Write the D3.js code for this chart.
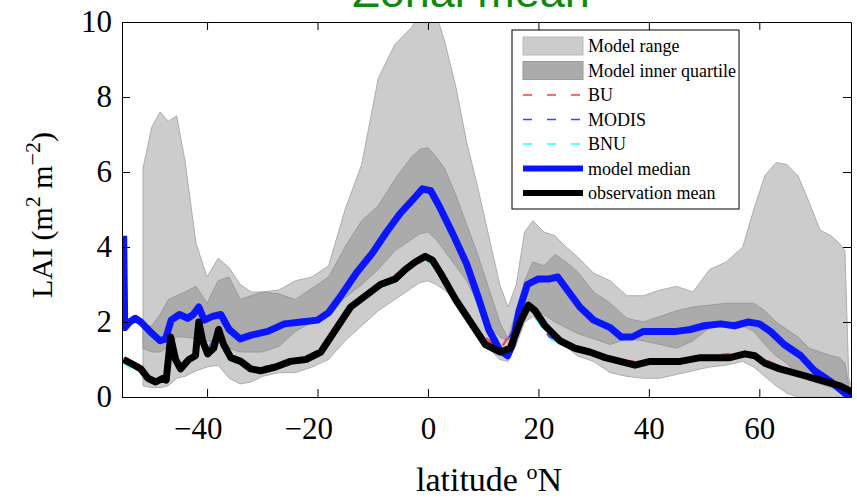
<!DOCTYPE html>
<html>
<head>
<meta charset="utf-8">
<script src="https://cdn.jsdelivr.net/npm/d3@7"></script>
<style>
  body { margin: 0; background: #fff; }
  svg { display: block; }
  .tick text { font-family: "Liberation Serif", "Times New Roman", serif; font-size: 31px; fill: #000; }
  .tick line { stroke: #000; }
  .domain { stroke: #000; }
  .leg { font-family: "Liberation Serif", "Times New Roman", serif; font-size: 18px; }
</style>
</head>
<body>
<script>
// band latitudes (shared by model range / inner quartile edges)
var bandLat = [-51.6, -50, -48.5, -47, -45.5, -44, -42, -40, -38, -36, -34, -32, -30, -27, -24, -21, -18, -15, -12, -9, -6, -3, -1.5, 0, 1.5, 3, 5, 7, 9, 11, 13, 14.5, 16, 17.5, 19, 21, 23, 25, 27, 30, 33, 36, 39, 42, 45, 48, 51, 54, 57, 59, 61, 63, 65, 67, 69, 71, 73, 74.5, 75.5, 76.2, 77];
var rangeHigh = [6.1, 7.2, 7.6, 7.35, 7.5, 6.3, 4.1, 3.2, 3.7, 3.45, 3.0, 2.8, 2.8, 2.85, 3.1, 3.2, 3.5, 5.0, 6.2, 8.5, 9.4, 9.85, 10.2, 9.9, 10.2, 9.5, 8.3, 6.8, 5.6, 4.3, 3.0, 2.4, 3.0, 4.4, 4.7, 4.4, 4.3, 4.0, 3.75, 3.3, 3.1, 2.7, 2.7, 2.85, 2.95, 2.8, 3.4, 3.6, 4.0, 5.0, 5.9, 6.25, 6.2, 5.9, 5.2, 4.45, 4.3, 4.1, 3.9, 0.5, 0.1];
var rangeLow = [0.3, 0.25, 0.25, 0.3, 0.5, 0.55, 0.7, 0.8, 0.85, 0.5, 0.35, 0.4, 0.55, 0.65, 0.65, 0.8, 1.0, 1.5, 1.9, 2.3, 2.6, 2.9, 3.05, 3.1, 3.0, 2.85, 2.6, 2.1, 1.7, 1.3, 1.0, 0.95, 1.4, 2.0, 2.15, 1.85, 1.65, 1.35, 1.1, 0.95, 0.65, 0.55, 0.5, 0.5, 0.6, 0.7, 0.8, 0.85, 0.95, 0.8, 0.55, 0.3, 0.1, 0.0, 0.0, 0.0, 0.0, 0.0, 0.0, 0.0, 0.0];
var iqrHigh = [1.9, 1.9, 2.2, 2.6, 2.7, 2.8, 2.95, 2.5, 3.1, 3.2, 2.6, 2.7, 2.8, 2.75, 2.6, 2.9, 3.2, 4.0, 4.7, 5.1, 5.8, 6.4, 6.6, 6.65, 6.4, 6.1, 5.4, 4.6, 3.8, 2.9, 2.0, 1.55, 2.3, 3.1, 3.6, 3.5, 3.8, 3.6, 3.35, 2.8, 2.5, 2.1, 2.0, 2.15, 2.3, 2.4, 2.45, 2.5, 2.5, 2.5, 2.3, 2.0, 1.8, 1.6, 1.3, 1.2, 1.1, 1.05, 0.9, 0.3, 0.1];
var iqrLow = [1.3, 1.2, 1.2, 1.35, 1.6, 1.6, 1.55, 1.5, 1.45, 1.3, 1.2, 1.2, 1.2, 1.35, 1.75, 2.0, 2.3, 2.65, 3.0, 3.4, 3.9, 4.2, 4.35, 4.4, 4.2, 3.9, 3.5, 3.1, 2.5, 1.9, 1.6, 1.5, 2.0, 2.5, 2.4, 2.2, 2.0, 1.85, 1.7, 1.55, 1.4, 1.55, 1.5, 1.4, 1.3, 1.5, 1.85, 1.9, 1.9, 1.75, 1.4, 1.1, 0.9, 0.6, 0.45, 0.35, 0.25, 0.2, 0.15, 0.1, 0.05];

// model median
var medLat = [-55.1, -54.9, -54, -53, -52, -51, -50, -48.5, -47.5, -46.5, -45, -43.5, -42.5, -41.5, -40.5, -39, -37.5, -36, -34, -32, -29, -26, -23, -20, -18, -16, -13, -10, -7.5, -5, -2.5, -1, 0.5, 2, 4.5, 7, 9, 11, 13, 14.4, 15.3, 16.5, 18, 20, 22, 23.5, 25, 27.5, 30, 33, 35, 37, 39, 42, 45, 47.5, 50, 53, 55.5, 58, 60, 62, 64.5, 67.5, 70, 73, 75.5, 77];
var medVal = [4.3, 1.85, 2.0, 2.1, 2.0, 1.85, 1.7, 1.5, 1.55, 2.05, 2.2, 2.1, 2.2, 2.4, 2.05, 2.15, 2.2, 1.8, 1.55, 1.65, 1.75, 1.95, 2.0, 2.05, 2.25, 2.65, 3.3, 3.85, 4.4, 4.9, 5.3, 5.55, 5.5, 5.1, 4.35, 3.55, 2.7, 1.8, 1.25, 1.1, 1.4, 2.3, 3.0, 3.15, 3.15, 3.2, 2.9, 2.4, 2.05, 1.85, 1.6, 1.6, 1.75, 1.75, 1.75, 1.8, 1.9, 1.95, 1.9, 2.0, 1.95, 1.75, 1.4, 1.1, 0.7, 0.4, 0.1, 0.0];

// observation mean
var obsLat = [-55.1, -53.8, -52, -50.7, -49.3, -48, -47.4, -46.6, -45.7, -44.8, -43.3, -42.1, -41.5, -40.8, -39.9, -38.8, -37.9, -37, -35.7, -33.9, -32.1, -30.3, -27.6, -24.9, -22.1, -19.4, -16.7, -14, -11.3, -8.6, -5.9, -4.1, -2.3, -0.5, 0.8, 2.3, 5, 7.7, 10.4, 13.1, 14.9, 16.7, 18.2, 19.4, 21.2, 23.9, 26.6, 29.3, 32.1, 34.8, 37.5, 40.2, 42.9, 45.7, 49.3, 52, 54.7, 57.4, 59.2, 61, 63.7, 67.4, 71, 74.6, 77];
var obsVal = [1.0, 0.9, 0.75, 0.5, 0.4, 0.5, 0.45, 1.6, 1.0, 0.75, 1.0, 1.1, 2.0, 1.5, 1.15, 1.3, 1.8, 1.4, 1.05, 0.95, 0.75, 0.7, 0.8, 0.95, 1.0, 1.2, 1.8, 2.4, 2.7, 3.0, 3.15, 3.4, 3.6, 3.75, 3.65, 3.3, 2.6, 2.0, 1.4, 1.2, 1.3, 2.0, 2.45, 2.3, 1.9, 1.5, 1.3, 1.2, 1.05, 0.95, 0.85, 0.95, 0.95, 0.95, 1.05, 1.05, 1.05, 1.15, 1.1, 0.9, 0.75, 0.6, 0.45, 0.3, 0.12];

// individual observation products (only fringe visible under black line)
var prodLat = [-55.1, -50, -47, -46.6, -45, -42, -41.5, -40, -38, -36, -32, -26, -20, -14, -8, -4, -0.5, 3, 8, 13, 16.5, 18.2, 22, 28, 35, 42, 50, 57, 60, 65, 70, 74, 77];
var buVal = [1.05, 0.5, 0.5, 1.65, 0.8, 1.15, 2.05, 1.2, 1.85, 1.05, 0.75, 0.9, 1.1, 2.45, 3.05, 3.45, 3.85, 3.15, 1.9, 1.25, 2.05, 2.5, 1.65, 1.25, 0.95, 0.97, 1.07, 1.2, 1.07, 0.72, 0.52, 0.37, 0.17];
var modisVal = [1.0, 0.48, 0.47, 1.6, 0.78, 1.1, 2.0, 1.18, 1.8, 1.02, 0.74, 0.88, 1.08, 2.4, 3.0, 3.4, 3.75, 3.1, 1.88, 1.22, 2.0, 2.45, 1.6, 1.22, 0.93, 0.95, 1.05, 1.15, 1.04, 0.7, 0.48, 0.32, 0.12];
var bnuVal = [0.9, 0.45, 0.44, 1.55, 0.74, 1.05, 1.95, 1.12, 1.75, 1.0, 0.72, 0.85, 1.05, 2.35, 2.95, 3.35, 3.7, 3.05, 1.85, 1.2, 1.95, 2.4, 1.55, 1.2, 0.9, 0.93, 1.02, 1.12, 1.0, 0.66, 0.44, 0.28, 0.1];

var xTicks = [-40, -20, 0, 20, 40, 60];
var yTicks = [0, 2, 4, 6, 8, 10];

var legendItems = ["Model range", "Model inner quartile", "BU", "MODIS", "BNU", "model median", "observation mean"];

var W = 857, H = 498;
var plotL = 122, plotR = 851, plotT = 22, plotB = 397;

var svg = d3.select("body").append("svg")
    .attr("width", W)
    .attr("height", H);

var x = d3.scaleLinear().domain([-55.4, 76.6]).range([plotL, plotR]);
var y = d3.scaleLinear().domain([0, 10]).range([plotB, plotT]);

svg.append("clipPath").attr("id", "clip")
  .append("rect")
    .attr("x", plotL).attr("y", plotT)
    .attr("width", plotR - plotL).attr("height", plotB - plotT);

var plot = svg.append("g").attr("clip-path", "url(#clip)");

function band(hi, lo) {
  return d3.area()
    .x(function(d, i) { return x(bandLat[i]); })
    .y0(function(d, i) { return y(lo[i]); })
    .y1(function(d, i) { return y(hi[i]); })(bandLat);
}

plot.append("path")
    .attr("d", band(rangeHigh, rangeLow))
    .attr("fill", "#cccccc")
    .attr("stroke", "#adadad")
    .attr("stroke-width", 1);

plot.append("path")
    .attr("d", band(iqrHigh, iqrLow))
    .attr("fill", "#ababab")
    .attr("stroke", "#9a9a9a")
    .attr("stroke-width", 1);

function line(lats, vals) {
  return d3.line()
    .x(function(d, i) { return x(lats[i]); })
    .y(function(d, i) { return y(vals[i]); })(vals);
}

var prods = [[buVal, "#ff3b3b"], [modisVal, "#3048ff"], [bnuVal, "#22ffff"]];
prods.forEach(function(p) {
  plot.append("path")
      .attr("d", line(prodLat, p[0]))
      .attr("fill", "none")
      .attr("stroke", p[1])
      .attr("stroke-width", 2)
      .attr("stroke-dasharray", "9,15");
});

plot.append("path")
    .attr("d", line(medLat, medVal))
    .attr("fill", "none")
    .attr("stroke", "#0a14ff")
    .attr("stroke-width", 7)
    .attr("stroke-linejoin", "round");

plot.append("path")
    .attr("d", line(obsLat, obsVal))
    .attr("fill", "none")
    .attr("stroke", "#000")
    .attr("stroke-width", 7)
    .attr("stroke-linejoin", "round");

// axes, ticks inward on all four sides
var xAxis = svg.append("g")
    .attr("transform", "translate(0," + plotB + ")")
    .call(d3.axisBottom(x).tickValues(xTicks).tickSizeInner(-8).tickSizeOuter(0).tickPadding(20));
// negative labels sit a bit left of their tick in the original
xAxis.selectAll(".tick text").attr("dx", function(d) { return d < 0 ? "-0.3em" : 0; });

svg.append("g")
    .attr("transform", "translate(" + plotL + ",0)")
    .call(d3.axisLeft(y).tickValues(yTicks).tickSizeInner(-8).tickSizeOuter(0).tickPadding(10));

svg.append("g")
    .attr("transform", "translate(0," + plotT + ")")
    .call(d3.axisTop(x).tickValues(xTicks).tickSizeInner(-8).tickSizeOuter(0).tickFormat(""));

svg.append("g")
    .attr("transform", "translate(" + plotR + ",0)")
    .call(d3.axisRight(y).tickValues(yTicks).tickSizeInner(-8).tickSizeOuter(0).tickFormat(""));

// title (partly cut off at the top)
svg.append("text")
    .attr("x", 471).attr("y", 7)
    .attr("text-anchor", "middle")
    .attr("font-family", "Liberation Sans, Arial, sans-serif")
    .attr("font-size", 45)
    .attr("fill", "#0b8a0b")
    .text("Zonal mean");

// axis labels
var xl = svg.append("text")
    .attr("x", 489).attr("y", 491)
    .attr("text-anchor", "middle")
    .attr("font-family", "Liberation Serif, Times New Roman, serif")
    .attr("font-size", 34);
xl.append("tspan").text("latitude ");
xl.append("tspan").attr("font-size", 22).attr("dy", -12).text("o");
xl.append("tspan").attr("dy", 12).text("N");

var yl = svg.append("text")
    .attr("transform", "translate(52,215) rotate(-90)")
    .attr("text-anchor", "middle")
    .attr("font-family", "Liberation Serif, Times New Roman, serif")
    .attr("font-size", 30);
yl.append("tspan").text("LAI (m");
yl.append("tspan").attr("font-size", 22).attr("dy", -12).text("2");
yl.append("tspan").attr("dy", 12).text(" m");
yl.append("tspan").attr("font-size", 22).attr("dy", -12).text("\u22122");
yl.append("tspan").attr("dy", 12).text(")");

// legend
var leg = svg.append("g");
leg.append("rect")
    .attr("x", 512).attr("y", 30)
    .attr("width", 227).attr("height", 179)
    .attr("fill", "#fff")
    .attr("stroke", "#000");

var rowY = d3.scalePoint().domain(legendItems).range([46, 193]);

legendItems.forEach(function(name, i) {
  var cy = rowY(name);
  if (i < 2) {
    leg.append("rect")
        .attr("x", 523).attr("y", cy - 9)
        .attr("width", 60).attr("height", 18)
        .attr("fill", i == 0 ? "#cccccc" : "#ababab")
        .attr("stroke", i == 0 ? "#b8b8b8" : "#9a9a9a");
  } else {
    var col = ["#ff3b3b", "#3048ff", "#22ffff", "#0a14ff", "#000"][i - 2];
    leg.append("line")
        .attr("x1", 523).attr("x2", 583)
        .attr("y1", cy).attr("y2", cy)
        .attr("stroke", col)
        .attr("stroke-width", i < 5 ? 1.5 : 6)
        .attr("stroke-dasharray", i < 5 ? "9,15" : null);
  }
  leg.append("text")
      .attr("class", "leg")
      .attr("x", 588).attr("y", cy + 6)
      .text(name);
});
</script>
</body>
</html>
